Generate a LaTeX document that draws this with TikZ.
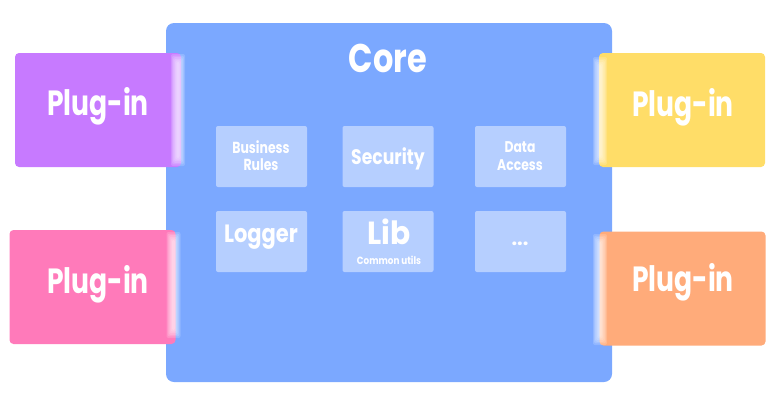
\documentclass[tikz,border=0pt]{standalone}
\usepackage{fontspec}
\setmainfont{Poppins}
\definecolor{coreblue}{RGB}{123,168,255}
\definecolor{plugpurple}{RGB}{199,122,255}
\definecolor{plugpink}{RGB}{255,122,186}
\definecolor{plugyellow}{RGB}{255,221,104}
\definecolor{plugorange}{RGB}{255,171,122}
% soft white bar where a plug-in meets the core
\newcommand\glowbar[3]{%
  \foreach \k in {0,...,5}{%
    \fill[white, opacity=0.17, rounded corners=2pt]
      ({#1-1.5-\k*1.1},{#2-\k*1.6}) rectangle ({#1+1.5+\k*1.1},{#3+\k*1.6});}}
% slightly condensed lettering
\newcommand\narrow[2][0.84]{\scalebox{#1}[1]{#2}}
\begin{document}
\begin{tikzpicture}[x=1pt,y=-1pt,
  corebox/.style={fill=coreblue, rounded corners=8pt, minimum width=446pt,
    minimum height=359pt, inner sep=0pt},
  plug/.style={rounded corners=4pt, minimum width=166pt, minimum height=114pt,
    inner sep=0pt},
  pluglabel/.style={text=white, inner sep=0pt, font=\bfseries\fontsize{35}{35}\selectfont},
  part/.style={fill=white, fill opacity=0.45, text opacity=1, text=white,
    rounded corners=2pt, minimum width=91pt, minimum height=61pt, inner sep=0pt,
    align=center},
  lbl/.style={text=white, inner sep=0pt, align=center},
]
\useasboundingbox (0,0) rectangle (774,400);

% core block
\node[corebox] (core) at (389,202.5) {};
\node[lbl, font=\bfseries\fontsize{40}{40}\selectfont] (coretitle) at (388,58) {\narrow[0.8]{Core}};

% parts of the core
\node[part] (rules) at (261.5,156.5) {};
\node[part] (sec)   at (388,156.5) {};
\node[part] (data)  at (520.5,156.5) {};
\node[part] (log)   at (261.5,241.5) {};
\node[part] (lib)   at (388,241.5) {};
\node[part] (more)  at (520.5,241.5) {};

\node[lbl, font=\bfseries\fontsize{16}{17}\selectfont] (rulestxt) at (261,156) {\narrow[0.78]{Business}\\\narrow[0.78]{Rules}};
\node[lbl, font=\bfseries\fontsize{21}{22}\selectfont] (sectxt) at (388,159) {\narrow[0.82]{Security}};
\node[lbl, font=\bfseries\fontsize{15.5}{18}\selectfont] (datatxt) at (520,156) {\narrow[0.8]{Data}\\\narrow[0.8]{Access}};
\node[lbl, font=\bfseries\fontsize{25}{25}\selectfont] (logtxt) at (261,237) {\narrow[0.84]{Logger}};
\node[lbl, font=\bfseries\fontsize{32}{32}\selectfont] (libtxt) at (389,232) {\narrow[0.93]{Lib}};
\node[lbl, font=\bfseries\fontsize{10.5}{11}\selectfont] (libsub) at (389,260) {\narrow{Common utils}};
\node[lbl, font=\bfseries\fontsize{20}{20}\selectfont] (moretxt) at (520,244) {...};

% plug-ins
\node[plug, fill=plugpurple] (p1) at (98,110) {};
\node[plug, fill=plugpink]   (p2) at (92.5,287) {};
\node[plug, fill=plugyellow] (p3) at (682,110) {};
\node[plug, fill=plugorange] (p4) at (682.5,288.5) {};

\glowbar{178}{62}{158}
\glowbar{173.5}{240}{330}
\glowbar{600}{65}{157}
\glowbar{600}{242}{337}

\node[pluglabel] (p1txt) at (98,106) {\narrow[0.76]{Plug-in}};
\node[pluglabel] (p2txt) at (98,284) {\narrow[0.76]{Plug-in}};
\node[pluglabel] (p3txt) at (683,107) {\narrow[0.76]{Plug-in}};
\node[pluglabel] (p4txt) at (683,282) {\narrow[0.76]{Plug-in}};
\end{tikzpicture}
\end{document}
